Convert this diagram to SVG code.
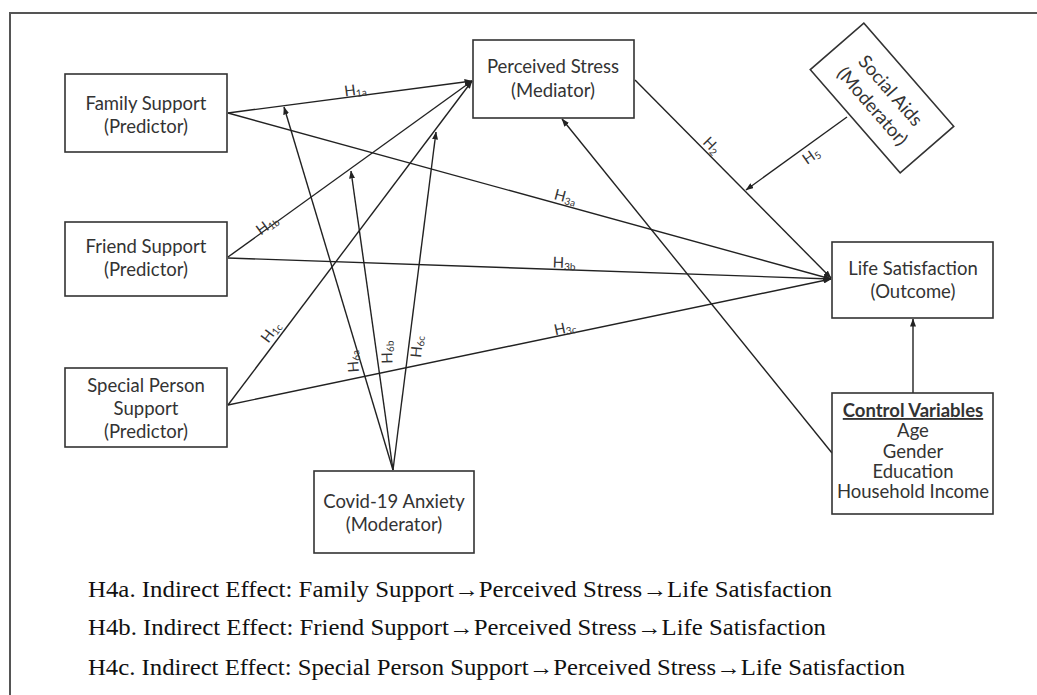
<svg xmlns="http://www.w3.org/2000/svg" width="1037" height="695" viewBox="0 0 1037 695">
<style>
.box{fill:#fff;stroke:#333;stroke-width:1.6}
.nt{font-family:Lato,"Liberation Sans",sans-serif;font-size:18.5px;fill:#333;text-anchor:middle}
.ln{stroke:#222;stroke-width:1.4;fill:none}
.lbl{font-family:Lato,"Liberation Sans",sans-serif;font-size:15px;fill:#333;text-anchor:middle}
.sub{font-size:10px}
.bt{font-family:"Liberation Serif","Times New Roman",serif;font-size:23px;fill:#111}
</style>
<defs>
<marker id="ah" markerWidth="8" markerHeight="6" refX="7.5" refY="3" orient="auto" markerUnits="userSpaceOnUse"><path d="M0,0 L8,3 L0,6 z" fill="#222"/></marker>
</defs>
<rect width="1037" height="695" fill="#fff"/>
<path d="M10,695 L10,13 L1037,13" fill="none" stroke="#555" stroke-width="2"/>

<g id="connectors">
<path class="ln" d="M228,113 L472,81" marker-end="url(#ah)"/>
<path class="ln" d="M228,257 L472,81" marker-end="url(#ah)"/>
<path class="ln" d="M228,405 L472,81" marker-end="url(#ah)"/>
<path class="ln" d="M228,113 L831,279" marker-end="url(#ah)"/>
<path class="ln" d="M228,258 L831,279" marker-end="url(#ah)"/>
<path class="ln" d="M228,405 L831,279" marker-end="url(#ah)"/>
<path class="ln" d="M635,80 L831,278" marker-end="url(#ah)"/>
<path class="ln" d="M847,117 L746,190" marker-end="url(#ah)"/>
<path class="ln" d="M832,453 L562,119" marker-end="url(#ah)"/>
<path class="ln" d="M913,393 L913,319" marker-end="url(#ah)"/>
<path class="ln" d="M393,470 L284,107" marker-end="url(#ah)"/>
<path class="ln" d="M393,470 L351,171" marker-end="url(#ah)"/>
<path class="ln" d="M393,470 L436,132" marker-end="url(#ah)"/>
<text class="lbl" transform="translate(356,95) rotate(-7.5)">H<tspan class="sub" dy="2">1a</tspan></text>
<text class="lbl" transform="translate(270,229) rotate(-36)">H<tspan class="sub" dy="2">1b</tspan></text>
<text class="lbl" transform="translate(275,335) rotate(-53)">H<tspan class="sub" dy="2">1c</tspan></text>
<text class="lbl" transform="translate(564,202) rotate(15)">H<tspan class="sub" dy="2">3a</tspan></text>
<text class="lbl" transform="translate(564,268) rotate(2)">H<tspan class="sub" dy="2">3b</tspan></text>
<text class="lbl" transform="translate(566,333) rotate(-12)">H<tspan class="sub" dy="2">3c</tspan></text>
<text class="lbl" transform="translate(708,149) rotate(45)">H<tspan class="sub" dy="2">2</tspan></text>
<text class="lbl" transform="translate(814,160) rotate(-35)">H<tspan class="sub" dy="2">5</tspan></text>
<text class="lbl" transform="translate(358,361) rotate(-95)">H<tspan class="sub" dy="2">6a</tspan></text>
<text class="lbl" transform="translate(392,352) rotate(-92)">H<tspan class="sub" dy="2">6b</tspan></text>
<text class="lbl" transform="translate(422,347) rotate(-85)">H<tspan class="sub" dy="2">6c</tspan></text>
</g>

<g id="family">
<rect class="box" x="65" y="74" width="162" height="78"/>
<text class="nt" x="146" y="110">Family Support</text>
<text class="nt" x="146" y="133">(Predictor)</text>
</g>
<g id="friend">
<rect class="box" x="65" y="222" width="162" height="74"/>
<text class="nt" x="146" y="253">Friend Support</text>
<text class="nt" x="146" y="276">(Predictor)</text>
</g>
<g id="special">
<rect class="box" x="65" y="368" width="162" height="79"/>
<text class="nt" x="146" y="392">Special Person</text>
<text class="nt" x="146" y="415">Support</text>
<text class="nt" x="146" y="438">(Predictor)</text>
</g>
<g id="stress">
<rect class="box" x="473" y="40" width="161" height="78"/>
<text class="nt" x="553" y="73">Perceived Stress</text>
<text class="nt" x="553" y="97">(Mediator)</text>
</g>
<g id="socialaids" transform="translate(882,98) rotate(49)">
<rect class="box" x="-68.5" y="-35.5" width="137" height="71"/>
<text class="nt" x="0" y="-5">Social Aids</text>
<text class="nt" x="0" y="19">(Moderator)</text>
</g>
<g id="life">
<rect class="box" x="832" y="242" width="161" height="76"/>
<text class="nt" x="913" y="275">Life Satisfaction</text>
<text class="nt" x="913" y="298">(Outcome)</text>
</g>
<g id="control">
<rect class="box" x="832" y="393" width="161" height="121"/>
<text class="nt" x="913" y="417" font-weight="bold" text-decoration="underline">Control Variables</text>
<text class="nt" x="913" y="437">Age</text>
<text class="nt" x="913" y="458">Gender</text>
<text class="nt" x="913" y="478">Education</text>
<text class="nt" x="913" y="498">Household Income</text>
</g>
<g id="covid">
<rect class="box" x="314" y="471" width="160" height="82"/>
<text class="nt" x="394" y="508">Covid-19 Anxiety</text>
<text class="nt" x="394" y="531">(Moderator)</text>
</g>

<g id="notes">
<text class="bt" x="88" y="597" textLength="744" lengthAdjust="spacingAndGlyphs">H4a. Indirect  Effect: Family Support→Perceived  Stress→Life Satisfaction</text>
<text class="bt" x="88" y="635" textLength="738" lengthAdjust="spacingAndGlyphs">H4b. Indirect  Effect: Friend Support→Perceived  Stress→Life Satisfaction</text>
<text class="bt" x="88" y="675" textLength="817" lengthAdjust="spacingAndGlyphs">H4c. Indirect  Effect: Special  Person Support→Perceived  Stress→Life Satisfaction</text>
</g>
</svg>
